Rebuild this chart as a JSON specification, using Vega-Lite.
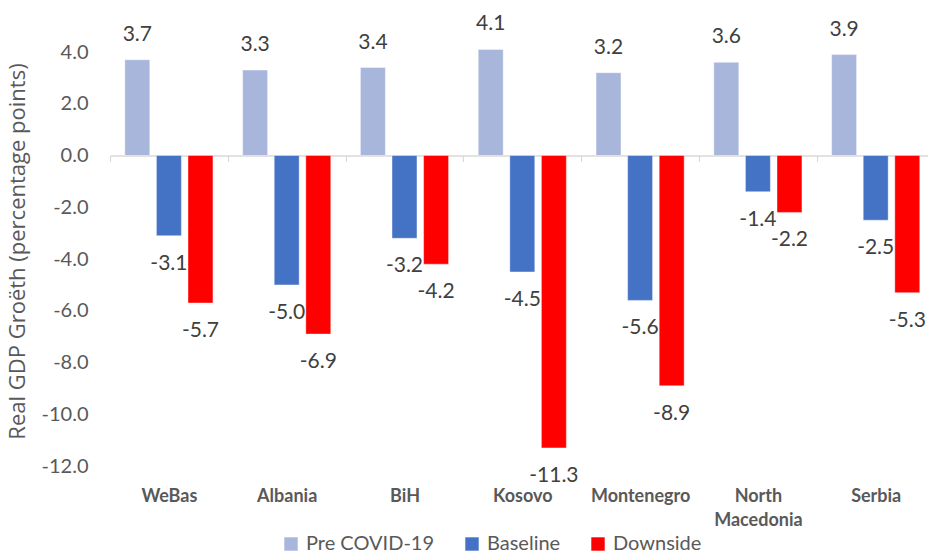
{
  "$schema": "https://vega.github.io/schema/vega-lite/v6.json",
  "width": 818,
  "height": 414,
  "autosize": {"type": "none"},
  "padding": {"left": 110, "top": 52, "right": 0, "bottom": 86},
  "background": "white",
  "config": {
    "view": {"stroke": null},
    "font": "Lato",
    "locale": {"number": {"decimal": ".", "thousands": ",", "grouping": [3], "currency": ["$", ""], "minus": "-"}}
  },
  "data": {
    "values": [
      {"country": "WeBas", "scenario": "Pre COVID-19", "value": 3.7},
      {"country": "WeBas", "scenario": "Baseline", "value": -3.1},
      {"country": "WeBas", "scenario": "Downside", "value": -5.7},
      {"country": "Albania", "scenario": "Pre COVID-19", "value": 3.3},
      {"country": "Albania", "scenario": "Baseline", "value": -5.0},
      {"country": "Albania", "scenario": "Downside", "value": -6.9},
      {"country": "BiH", "scenario": "Pre COVID-19", "value": 3.4},
      {"country": "BiH", "scenario": "Baseline", "value": -3.2},
      {"country": "BiH", "scenario": "Downside", "value": -4.2},
      {"country": "Kosovo", "scenario": "Pre COVID-19", "value": 4.1},
      {"country": "Kosovo", "scenario": "Baseline", "value": -4.5},
      {"country": "Kosovo", "scenario": "Downside", "value": -11.3},
      {"country": "Montenegro", "scenario": "Pre COVID-19", "value": 3.2},
      {"country": "Montenegro", "scenario": "Baseline", "value": -5.6},
      {"country": "Montenegro", "scenario": "Downside", "value": -8.9},
      {"country": "North Macedonia", "scenario": "Pre COVID-19", "value": 3.6},
      {"country": "North Macedonia", "scenario": "Baseline", "value": -1.4},
      {"country": "North Macedonia", "scenario": "Downside", "value": -2.2},
      {"country": "Serbia", "scenario": "Pre COVID-19", "value": 3.9},
      {"country": "Serbia", "scenario": "Baseline", "value": -2.5},
      {"country": "Serbia", "scenario": "Downside", "value": -5.3}
    ]
  },
  "encoding": {
    "x": {
      "field": "country",
      "type": "nominal",
      "sort": ["WeBas", "Albania", "BiH", "Kosovo", "Montenegro", "North Macedonia", "Serbia"],
      "scale": {"range": [0, 824.6], "paddingInner": 0, "paddingOuter": 0},
      "axis": {
        "title": null,
        "orient": "bottom",
        "offset": -310.5,
        "labelAngle": 0,
        "domainColor": "#D9D9D9",
        "domainWidth": 1.5,
        "tickColor": "#D9D9D9",
        "tickSize": 6,
        "tickWidth": 1.2,
        "tickBand": "extent",
        "labelPadding": 326,
        "labelBaseline": "top",
        "labelFontSize": 18,
        "labelFontWeight": "bold",
        "labelColor": "#595959",
        "labelLineHeight": 24,
        "labelExpr": "datum.label == 'North Macedonia' ? ['North', 'Macedonia'] : datum.label"
      }
    },
    "xOffset": {
      "field": "scenario",
      "type": "nominal",
      "sort": ["Pre COVID-19", "Baseline", "Downside"],
      "scale": {"paddingInner": 0.21, "paddingOuter": 0.47}
    },
    "y": {
      "field": "value",
      "type": "quantitative",
      "scale": {"domain": [-12, 4], "nice": false},
      "axis": {
        "title": "Real GDP Groëth (percentage points)",
        "values": [-12, -10, -8, -6, -4, -2, 0, 2, 4],
        "format": ".1f",
        "domain": false,
        "ticks": false,
        "grid": false,
        "labelFontSize": 20,
        "labelColor": "#595959",
        "labelPadding": 22,
        "titleFont": "Open Sans",
        "titleFontSize": 22,
        "titleFontWeight": "normal",
        "titleColor": "#595959",
        "titleX": -93,
        "titleY": 199,
        "titleAngle": -90,
        "titleAlign": "center",
        "titleBaseline": "middle"
      }
    }
  },
  "layer": [
    {
      "mark": {"type": "bar", "stroke": "#ffffff", "strokeWidth": 0.8, "strokeOpacity": 0.5},
      "encoding": {
        "color": {
          "field": "scenario",
          "type": "nominal",
          "sort": ["Pre COVID-19", "Baseline", "Downside"],
          "scale": {"domain": ["Pre COVID-19", "Baseline", "Downside"], "range": ["#A8B6DB", "#4472C4", "#FF0000"]},
          "legend": {
            "orient": "none",
            "legendX": 171,
            "legendY": 482,
            "direction": "horizontal",
            "title": null,
            "symbolType": "square",
            "symbolSize": 180,
            "symbolStrokeWidth": 0,
            "labelFontSize": 20,
            "labelColor": "#595959",
            "labelOffset": 5,
            "columnPadding": 27,
            "padding": 0
          }
        }
      }
    },
    {
      "transform": [{"filter": "datum.value >= 0"}],
      "mark": {"type": "text", "dy": -25, "baseline": "middle", "align": "center", "fontSize": 21, "color": "#404040"},
      "encoding": {"text": {"field": "value", "type": "quantitative", "format": ".1f"}}
    },
    {
      "transform": [{"filter": "datum.value < 0"}],
      "mark": {"type": "text", "dy": 28, "baseline": "middle", "align": "center", "fontSize": 21, "color": "#404040"},
      "encoding": {"text": {"field": "value", "type": "quantitative", "format": ".1f"}}
    }
  ]
}
